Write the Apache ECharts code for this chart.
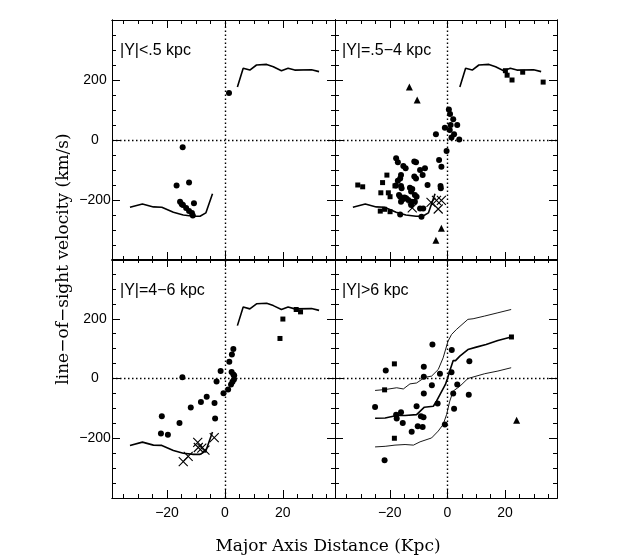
<!DOCTYPE html>
<html>
<head>
<meta charset="utf-8">
<script src="https://cdn.jsdelivr.net/npm/echarts@6/dist/echarts.min.js"></script>
<style>
html,body{margin:0;padding:0;background:#fff;}
#chart{width:636px;height:556px;}
</style>
</head>
<body>
<div id="chart"></div>
<script>
// ---------- data ----------
const panelLabels = ['|Y|<.5 kpc', '|Y|=.5\u22124 kpc', '|Y|=4\u22126 kpc', '|Y|>6 kpc'];
const xTitle = 'Major Axis Distance (Kpc)';
const yTitle = 'line\u2212of\u2212sight velocity (km/s)';
const xMajorTicks = [-20, 0, 20];
const xMinorTicks = [-35, -30, -25, -20, -15, -10, -5, 0, 5, 10, 15, 20, 25, 30, 35];
const yMajorTicks = [-200, 0, 200];
const yMinorTicks = [-350, -300, -250, -200, -150, -100, -50, 0, 50, 100, 150, 200, 250, 300, 350];

// rotation curve (panels 1-3)
const curveLeft = [[-32.8,-224],[-28.5,-213],[-24.7,-223],[-21.8,-224],[-17.8,-241],[-14.4,-250],[-10.9,-254],[-8.6,-254],[-6.6,-243],[-4.3,-179]];
const curveRight = [[4.3,177],[6.3,239],[8.6,233],[10.9,250],[14.4,252],[16.7,244],[19.5,231],[21.8,239],[24.1,233],[29.9,234],[32.5,228]];

// panel 1
const p1Circles = [[1.4,157],[-14.6,-24],[-16.7,-152],[-12.4,-142],[-10.7,-211],[-15.5,-206],[-14.9,-214],[-14.5,-217],[-13.4,-227],[-12.4,-237],[-11.4,-243],[-11.1,-252]];

// panel 2
const p2Circles = [[0.5,102],[0.9,87],[2.0,69],[1.1,50],[3.4,50],[-0.9,41],[0.8,33],[2.3,19],[-4.0,19],[1.4,8],[4.1,2],[-0.3,-37],
  [-2.9,-67],[-2.1,-89],[-2.4,-153],[-2.3,-161],[-6.9,-150],[-17.8,-61],[-17.2,-74],[-15.3,-87],[-14.5,-94],[-11.5,-72],[-10.9,-74],
  [-9.5,-100],[-7.8,-94],[-8.6,-117],[-11.5,-122],[-10.9,-128],[-16.1,-117],[-16.4,-128],[-17.2,-136],[-17.9,-152],[-16.1,-153],
  [-15.9,-161],[-13.0,-159],[-12.2,-163],[-12.6,-172],[-11.3,-183],[-10.7,-189],[-16.8,-183],[-16.4,-189],[-14.9,-192],[-15.6,-198],
  [-16.1,-206],[-14.3,-194],[-13.6,-200],[-12.4,-206],[-11.3,-206],[-12.6,-217],[-9.5,-228],[-8.4,-228],[-9.0,-256],[-16.4,-248]];
const p2Squares = [[20.1,231],[20.7,216],[22.4,200],[26.1,226],[33.2,193],[-31.1,-150],[-29.4,-156],[-22.5,-142],[-21.0,-117],
  [-23.1,-176],[-20.5,-176],[-19.9,-189],[-18.2,-153],[-23.3,-237],[-21.8,-231],[-19.9,-239]];
const p2Triangles = [[-13.2,177],[-10.5,133],[-2.1,-294],[-4.0,-334]];
const p2Crosses = [[-12.2,-226],[-5.7,-208],[-3.8,-201],[-2.1,-201],[-3.2,-230]];

// panel 3
const p3Circles = [[-14.7,4],[-21.8,-126],[-22.1,-184],[-19.7,-188],[-15.7,-149],[-11.8,-97],[-8.3,-79],[-6.3,-61],[-3.6,-82],
  [-3.4,-134],[-2.9,-10],[-1.5,25],[-0.5,-49],[1.1,-37],[1.5,56],[2.4,80],[2.9,99],[2.3,22],[2.9,13],[3.2,10],[2.6,-11],[2.1,-20],[3.1,-3]];
const p3Squares = [[19.0,134],[20.0,199],[24.6,231],[26.1,223]];
const p3Crosses = [[-14.4,-278],[-12.7,-261],[-9.4,-214],[-9.2,-231],[-8.0,-233],[-6.9,-240],[-3.7,-198]];

// panel 4
const p4Mid = [[-25.1,-133],[-21.6,-132],[-17.6,-124],[-14.7,-124],[-10.7,-121],[-8.0,-96],[-4.9,-93],[-3.8,-76],[-2.6,-54],[-0.7,-20],
  [0,0],[0.8,25],[2.0,60],[2.8,60],[4.3,75],[7.1,97],[10.0,105],[13.4,114],[17.5,127],[22.1,139]];
const p4Upper = [[-25.1,-40],[-21.6,-37],[-17.6,-31],[-15.3,-35],[-13.0,-18],[-10.7,-15],[-7.8,4],[-5.5,8],[-3.2,30],[-1.5,69],
  [0.2,125],[1.4,147],[3.1,164],[7.1,198],[8.9,200],[12.9,209],[17.5,220],[22.1,231]];
const p4Lower = [[-25.1,-229],[-21.6,-227],[-18.2,-223],[-14.7,-221],[-11.8,-223],[-9.5,-212],[-5.5,-199],[-3.2,-176],[-1.5,-154],
  [-0.3,-121],[0.8,-76],[2.0,-42],[4.3,-26],[7.1,0],[12.9,16],[17.5,25],[22.1,36]];
const p4Circles = [[-21.4,27],[-25.1,-95],[-21.8,-274],[-5.2,114],[-8.2,39],[-8.2,6],[-8.2,-50],[-5.4,-23],[-2.6,16],[-3.4,-84],
  [-10.7,-93],[-9.2,-126],[-8.3,-130],[-10.3,-160],[-8.6,-162],[-12.4,-178],[-15.5,-149],[-16.1,-113],[-17.8,-121],[-17.6,-134],
  [-0.9,-154],[1.5,95],[1.4,21],[7.6,58],[3.4,-20],[2.0,-50],[2.3,-101],[7.4,-54]];
const p4Squares = [[-18.4,49],[-21.8,-38],[-18.4,-200],[22.2,139]];
const p4Triangles = [[24.0,-140]];

// ---------- layout / style ----------
const X_MIN = -39, X_MAX = 38, Y_MIN = -400, Y_MAX = 400;
const grids = [
  {left:112, top:20, width:223, height:240},
  {left:335, top:20, width:222, height:240},
  {left:112, top:259, width:223, height:239},
  {left:335, top:259, width:222, height:239}
];
const fmt = v => (v < 0 ? '\u2212' + Math.abs(v) : String(v));
const tickFont = {fontFamily:'Liberation Sans', fontSize:14, color:'#000'};
const CROSS = 'path://M0,0L10,10M10,0L0,10';

const xAxes = [], yAxes = [];
grids.forEach((g, gi) => {
  const showX = gi >= 2, showY = gi % 2 === 0;
  [['bottom',false],['bottom',true],['top',false],['top',true]].forEach(([pos, major]) => {
    xAxes.push({
      type:'value', gridIndex:gi, position:pos, min:X_MIN, max:X_MAX,
      axisLine:{show:true, onZero:false, lineStyle:{color:'#000', width:1}},
      axisTick:{show:true, inside:true, length: major ? 8 : 4, customValues: major ? xMajorTicks : xMinorTicks, lineStyle:{color:'#000', width:1}},
      axisLabel:Object.assign({show: showX && pos === 'bottom' && major, customValues:xMajorTicks, formatter:fmt, margin:8}, tickFont),
      splitLine:{show:false}
    });
  });
  [['left',false],['left',true],['right',false],['right',true]].forEach(([pos, major]) => {
    yAxes.push({
      type:'value', gridIndex:gi, position:pos, min:Y_MIN, max:Y_MAX,
      axisLine:{show:true, onZero:false, lineStyle:{color:'#000', width:1}},
      axisTick:{show:true, inside:true, length: major ? 8 : 4, customValues: major ? yMajorTicks : yMinorTicks, lineStyle:{color:'#000', width:1}},
      axisLabel:Object.assign({show: showY && pos === 'left' && major, customValues:yMajorTicks, formatter:fmt, margin:17, align:'center'}, tickFont),
      splitLine:{show:false}
    });
  });
});

const zeroLines = {
  silent:true, symbol:['none','none'], label:{show:false},
  lineStyle:{color:'#000', type:[1.5,2.5], width:1.4, opacity:1},
  emphasis:{disabled:true},
  data:[{xAxis:0},{yAxis:0}]
};

function scatter(gi, data, symbol, size) {
  const s = {
    type:'scatter', xAxisIndex:gi*4, yAxisIndex:gi*4, data:data, symbol:symbol, symbolSize:size,
    itemStyle:{color:'#000', opacity:1}, silent:true
  };
  if (symbol === CROSS) s.itemStyle = {color:'rgba(0,0,0,0)', borderColor:'#000', borderWidth:1.1, opacity:1};
  return s;
}
function line(gi, data, width) {
  return {type:'line', xAxisIndex:gi*4, yAxisIndex:gi*4, data:data, showSymbol:false, symbol:'none',
    lineStyle:{color:'#000', width:width, opacity:1}, silent:true};
}

const series = [
  // panel 1
  Object.assign(line(0, [], 1), {markLine:zeroLines}),
  line(0, curveLeft, 1.6), line(0, curveRight, 1.6),
  scatter(0, p1Circles, 'circle', 6),
  // panel 2
  Object.assign(line(1, [], 1), {markLine:zeroLines}),
  line(1, curveLeft, 1.6), line(1, curveRight, 1.6),
  scatter(1, p2Circles, 'circle', 6),
  scatter(1, p2Squares, 'rect', 5),
  scatter(1, p2Triangles, 'triangle', 7),
  scatter(1, p2Crosses, CROSS, 9),
  // panel 3
  Object.assign(line(2, [], 1), {markLine:zeroLines}),
  line(2, curveLeft, 1.6), line(2, curveRight, 1.6),
  scatter(2, p3Circles, 'circle', 6),
  scatter(2, p3Squares, 'rect', 5),
  scatter(2, p3Crosses, CROSS, 9),
  // panel 4
  Object.assign(line(3, [], 1), {markLine:zeroLines}),
  line(3, p4Mid, 1.6), line(3, p4Upper, 0.9), line(3, p4Lower, 0.9),
  scatter(3, p4Circles, 'circle', 6),
  scatter(3, p4Squares, 'rect', 5),
  scatter(3, p4Triangles, 'triangle', 7)
];

const labelPos = [[120,51],[342,51],[120,291],[342,291]];
const graphic = panelLabels.map((t, i) => ({
  type:'text', x:labelPos[i][0], y:labelPos[i][1], silent:true,
  style:{text:t, fontFamily:'Liberation Sans', fontSize:16, fill:'#000', align:'left', verticalAlign:'middle'}
}));
graphic.push({
  type:'text', x:328, y:547, silent:true,
  style:{text:xTitle, fontFamily:'DejaVu Serif', fontSize:17, fill:'#000', align:'center', verticalAlign:'middle'}
});
graphic.push({
  type:'text', x:64, y:259, rotation:Math.PI/2, silent:true,
  style:{text:yTitle, fontFamily:'DejaVu Serif', fontSize:17, fill:'#000', align:'center', verticalAlign:'middle'}
});

const chart = echarts.init(document.getElementById('chart'), null, {renderer:'canvas'});
chart.setOption({
  backgroundColor:'#fff',
  animation:false,
  grid:grids.map(g => Object.assign({containLabel:false}, g)),
  xAxis:xAxes,
  yAxis:yAxes,
  series:series,
  graphic:graphic
});
</script>
</body>
</html>
